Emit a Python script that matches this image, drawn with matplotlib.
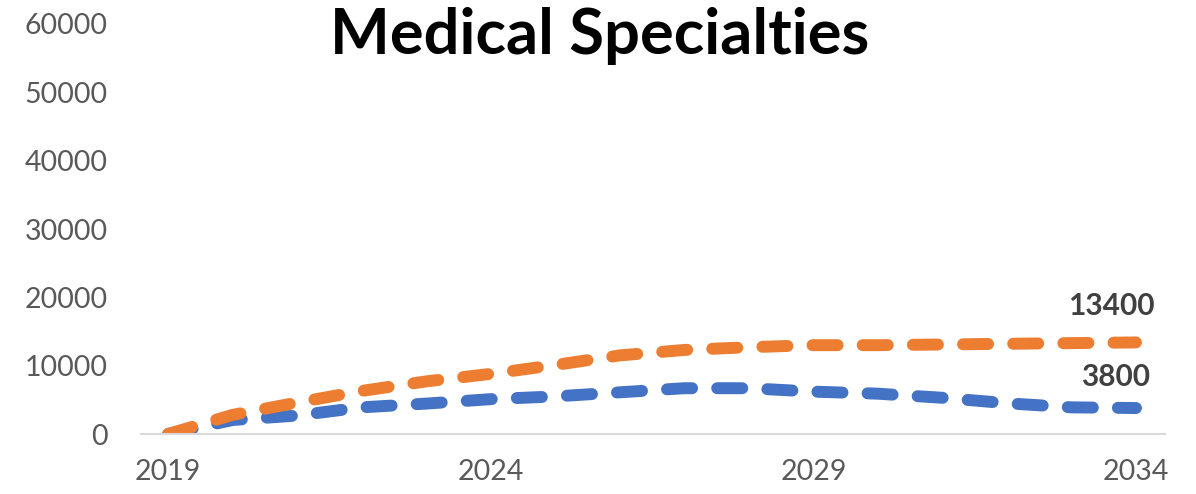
import matplotlib.pyplot as plt

plt.rcParams['font.family'] = ['Lato', 'DejaVu Sans']

years = list(range(2019, 2035))
orange_vals = [0, 2800, 4600, 6300, 7700, 8800, 10100, 11500, 12300, 12700,
               13000, 13000, 13100, 13200, 13300, 13400]
blue_vals = [0, 2050, 2700, 3900, 4450, 5100, 5500, 6100, 6700, 6700,
             6200, 5900, 5300, 4500, 3900, 3800]
xtick_years = [2019, 2024, 2029, 2034]
ytick_vals = [0, 10000, 20000, 30000, 40000, 50000, 60000]
end_labels = ['13400', '3800']

ORANGE = '#ED7D31'
BLUE = '#4472C4'
GREY = '#595959'

fig = plt.figure(figsize=(11.96, 4.94), dpi=100)
ax = fig.add_axes([141/1196, 1-434/494, 1024/1196, (434-24)/494])

# thick round-capped dashes like the Excel original
dash = (0, (2.1, 2.1))
ax.plot(years, blue_vals, color=BLUE, lw=8.6, linestyle=dash, dash_capstyle='round')
ax.plot(years, orange_vals, color=ORANGE, lw=8.6, linestyle=dash, dash_capstyle='round')

ax.annotate(end_labels[0], (years[-1], orange_vals[-1]), xytext=(-25, 36),
            textcoords='offset pixels', ha='center', va='center',
            fontsize=21.5, fontweight='bold', color='#404040')
ax.annotate(end_labels[1], (years[-1], blue_vals[-1]), xytext=(-20, 31),
            textcoords='offset pixels', ha='center', va='center',
            fontsize=21.5, fontweight='bold', color='#404040')

ax.set_xlim(2018.58, 2034.45)
ax.set_ylim(0, 60000)
ax.set_xticks(xtick_years)
ax.set_yticks(ytick_vals)
ax.set_xticklabels([str(y) for y in xtick_years])
ax.set_yticklabels([str(v) for v in ytick_vals])
ax.tick_params(axis='both', length=0, labelsize=20.5, colors=GREY)
ax.tick_params(axis='y', pad=24)
ax.tick_params(axis='x', pad=18)

for side in ['left', 'right', 'top']:
    ax.spines[side].set_visible(False)
ax.spines['bottom'].set_color('#D9D9D9')
ax.spines['bottom'].set_linewidth(1.5)

fig.text(600/1196, 1-36/494, 'Medical Specialties', ha='center', va='center',
         fontsize=45.5, fontweight='bold', color='black')

fig.savefig('out.png', dpi=100)
